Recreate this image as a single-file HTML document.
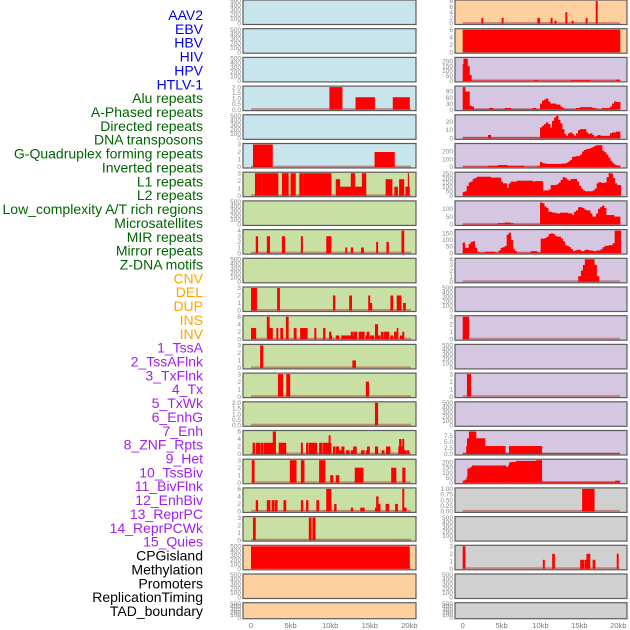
<!DOCTYPE html>
<html><head><meta charset="utf-8"><style>
html,body{margin:0;padding:0;background:#fff;}
svg{display:block;font-family:"Liberation Sans",sans-serif;}
</style></head><body>
<svg id="chart" width="630" height="630" viewBox="0 0 630 630"></svg>
<script>
const trackLabels = ["AAV2","EBV","HBV","HIV","HPV","HTLV-1","Alu repeats","A-Phased repeats","Directed repeats","DNA transposons","G-Quadruplex forming repeats","Inverted repeats","L1 repeats","L2 repeats","Low_complexity A/T rich regions","Microsatellites","MIR repeats","Mirror repeats","Z-DNA motifs","CNV","DEL","DUP","INS","INV","1_TssA","2_TssAFlnk","3_TxFlnk","4_Tx","5_TxWk","6_EnhG","7_Enh","8_ZNF_Rpts","9_Het","10_TssBiv","11_BivFlnk","12_EnhBiv","13_ReprPC","14_ReprPCWk","15_Quies","CPGisland","Methylation","Promoters","ReplicationTiming","TAD_boundary"];
const labelGroups = ["virus","virus","virus","virus","virus","virus","repeat","repeat","repeat","repeat","repeat","repeat","repeat","repeat","repeat","repeat","repeat","repeat","repeat","sv","sv","sv","sv","sv","chrom","chrom","chrom","chrom","chrom","chrom","chrom","chrom","chrom","chrom","chrom","chrom","chrom","chrom","chrom","other","other","other","other","other"];
const xTickKb = [0,5,10,15,20];
const xTickLabels = ["0","5kb","10kb","15kb","20kb"];
const EMPTY_TICKS = ["0","100","200","300","400","500"];
const STEP_KB = 0.257;

// left column segments [startKb,endKb,value]
const left_r03 = [[9.9,11.5,2],[13.2,15.6,1.1],[17.9,20,1.1]];
const left_r05 = [[0.25,2.7,3],[15.6,18.1,2]];
const left_r06 = [[0.5,1.3,3],[1.35,3.4,3],[3.9,4.7,3],[5,5.6,3],[6.1,6.6,3],[6.65,10.1,3],[10.7,11.2,2.2],[11.2,13.1,1.2],[12.6,13.1,3],[13.1,14,1.2],[14,14.5,3],[17,17.8,2.2],[18.1,18.5,1.2],[18.7,19.3,2.2],[19.5,20,1.2],[19.8,19.9,3]];
const left_r08 = [[0.6,0.85,3],[2,2.35,3],[3.9,4.25,3],[6.3,6.5,3],[9.5,10.1,3],[11.9,12.1,1],[12.6,12.85,1],[13.9,14.2,1],[15.8,16,2],[17.1,17.35,2],[19,19.3,4]];
const left_r10 = [[0,0.7,3],[3.3,3.6,3],[10.35,10.6,2],[12.4,12.7,2],[14.8,15,2],[15,15.25,1],[17.6,17.9,2],[18.4,18.95,2],[19.2,19.5,1]];
const left_r11 = [[0,0.6,3],[2,2.3,6],[2.3,2.7,3],[3.2,3.4,3],[3.7,4,3],[4.4,4.7,6],[5.4,5.7,3],[6.2,7.1,3],[8,8.2,3],[9.1,9.35,3],[9.85,10.1,2],[10.1,10.2,1],[10.7,11.1,1],[11.4,12.25,1],[12.3,13.3,1],[12.6,12.9,2],[13,13.35,2],[13.6,14.3,2],[14.45,14.7,1],[14.6,14.9,2],[15,15.5,1],[15.65,16,4],[16,16.3,1],[16.4,16.7,2],[16.8,17.4,2],[17.6,17.9,1],[18.05,18.4,2],[18.4,18.55,3],[18.8,19.1,1],[19.1,19.3,2]];
const left_r12 = [[1.15,1.5,3],[12.8,13.2,1]];
const left_r13 = [[3.4,4,3],[4.45,4.9,3],[14.5,14.85,2]];
const left_r14 = [[15.65,16,2]];
const left_r15 = [[0.2,0.45,3],[0.6,1.1,3],[1.2,1.5,3],[1.6,2.75,3],[2.75,3.1,6],[3.5,4.4,3],[6.3,6.5,3],[6.95,7.2,3],[7.3,8.3,3],[8.6,9,3],[9.1,9.8,3],[9.8,10,5],[10,10.1,3],[10.35,10.6,2],[10.7,11.1,2],[11.1,11.4,1],[11.4,11.75,2],[12,12.4,1],[12.6,12.9,1],[12.9,13.3,2],[13.9,14.3,1],[14.5,14.65,1],[14.65,14.95,2],[15.65,16,2],[16.5,16.8,1],[17.05,17.55,2],[18.6,18.75,2],[18.7,18.95,4],[18.95,19.1,2],[19.1,19.3,4],[19.3,19.6,1],[19.7,19.95,1]];
const left_r16 = [[0.1,0.4,3],[4.9,5.7,3],[6.3,6.7,3],[8.6,9.35,3],[10,10.35,1],[10.7,11.1,1],[13.1,14.15,2],[17.7,18.3,2],[19.1,19.45,2]];
const left_r17 = [[0.6,0.85,3],[2,2.4,3],[2.6,2.9,3],[3,3.3,3],[4.1,4.4,3],[6.3,6.55,3],[6.95,7.2,3],[8.25,8.55,3],[9.5,10.1,6],[10.5,10.75,2],[12.6,12.85,1],[13.8,14.3,1],[15.65,15.85,1],[15.8,16.05,4],[16.05,16.3,2],[17,17.4,2],[18.2,18.5,2],[19.1,19.3,6],[19.3,19.6,1]];
const left_r18 = [[0.25,0.55,3],[7.3,7.6,3],[7.75,8.1,3]];
const left_r19 = [[0,20,500]];

// right column segments
const right_r00 = [[2.4,2.6,2],[5,5.2,2],[9.6,9.9,2],[11.3,11.5,2],[11.8,12,1],[13.2,13.4,4],[14,14.2,1],[15.8,16,2],[17.1,17.3,8]];
const right_r01 = [[0,20.2,6]];
const right_r02 = [[0,20.2,4],[0,0.1,170],[0.1,0.6,225],[0.6,0.85,150],[0.85,1.1,60],[9.2,9.6,10],[13.9,16.4,8],[19.7,20.2,12]];
const right_r03 = [[0,9.94,3],[0,0.3,112],[0.3,0.85,90],[0.85,1.1,20],[1.1,1.4,15],[3.4,3.9,8],[5.4,6.2,8],[9,9.4,8]];
const right_r03_run = [30,45,50,55,40,30,30,30,25,25,15,8,3,3,3,3,3,3,8,8,12,12,12,12,12,12,8,8,3,3,3,8,8,8,8,15,30,40,38,38];
const right_r04 = [[0,9.94,1],[3.25,3.6,4]];
const right_r04_run = [13,15,17,19,17,13,21,25,27,22,18,11,5,3,6,7,5,3,6,10,11,11,11,7,5,6,4,2,3,4,3,3,3,3,3,6,7,7,8,8];
const right_r05 = [[0,3.26,5],[3.26,4.54,15],[4.54,5.7,25],[5.7,7.88,15],[7.88,9.5,3],[9.5,9.94,10]];
const right_r05_run = [65,50,45,40,40,40,40,40,40,40,40,45,45,55,70,90,130,135,140,140,160,200,220,230,235,245,255,270,280,280,280,210,190,160,120,80,50,30,20,20];
const right_r06_run = [40,50,110,150,160,190,200,215,215,215,215,215,215,215,205,205,205,205,205,160,140,140,90,140,160,160,160,170,170,170,170,170,170,170,170,160,165,165,165,165,60,60,60,70,120,120,120,130,150,180,210,200,180,170,190,190,190,160,110,80,60,50,50,50,50,60,80,140,155,145,145,150,210,255,250,200,140,120,120];
const right_r07 = [[0,9.94,2],[4.5,5.4,8],[5.4,6.1,12],[6.1,6.5,8]];
const right_r07_run = [140,135,115,105,80,80,75,75,70,70,75,75,75,75,70,70,60,80,90,110,110,105,95,90,90,70,50,50,70,100,110,120,105,60,60,60,60,50,50,50];
const right_r08_run = [80,40,40,70,85,90,40,10,3,3,3,10,10,10,10,10,5,3,20,40,45,55,140,155,100,30,15,3,3,3,3,3,3,3,15,15,15,5,5,110,110,115,125,145,150,145,130,125,125,110,90,60,55,45,30,15,20,25,25,15,15,25,25,20,20,15,15,20,20,30,45,55,55,60,60,75,170,170,170];
const right_r09 = [[14.85,15.2,1],[15.2,15.45,2],[15.45,15.7,3],[15.7,16.9,4],[16.9,17.2,3],[17.2,17.5,1]];
const right_r11 = [[0,0.77,3]];
const right_r13 = [[0.55,1.03,3]];
const right_r15 = [[0,20.2,0.3],[0.45,0.55,3.3],[0.55,0.8,6.5],[0.8,1.7,9.3],[1.7,2.85,6.5],[2.85,5.45,3.3],[5.95,10.15,3.3]];
const right_r16 = [[0,0.25,20],[0.25,0.5,30],[0.5,0.6,60],[0.6,0.85,140],[0.85,1.1,150],[1.1,1.2,160],[1.2,5.55,170],[5.55,5.8,155],[5.8,5.95,170],[5.95,6.2,200],[6.2,6.85,205],[6.85,9.43,215],[9.43,10.15,222],[10.15,19.6,10],[19.6,20.2,20]];
const right_r17 = [[15.35,16.9,1]];
const right_r19 = [[0,0.3,3],[10.3,10.5,1.2],[11.5,11.8,2],[15.1,15.6,1.2],[15.7,15.9,1.2],[15.9,16.35,2],[16.7,17,1.2],[19.8,20,2]];

const panels = [
 {c:0,r:0,bg:"blue",ymax:500,ticks:EMPTY_TICKS,segs:null},
 {c:0,r:1,bg:"blue",ymax:500,ticks:EMPTY_TICKS,segs:null},
 {c:0,r:2,bg:"blue",ymax:500,ticks:EMPTY_TICKS,segs:null},
 {c:0,r:3,bg:"blue",ymax:2,ticks:["0.0","0.5","1.0","1.5","2.0"],segs:left_r03},
 {c:0,r:4,bg:"blue",ymax:500,ticks:EMPTY_TICKS,segs:null},
 {c:0,r:5,bg:"blue",ymax:3,ticks:["0","1","2","3"],segs:left_r05},
 {c:0,r:6,bg:"green",ymax:3,ticks:["0","1","2","3"],segs:left_r06},
 {c:0,r:7,bg:"green",ymax:500,ticks:EMPTY_TICKS,segs:null},
 {c:0,r:8,bg:"green",ymax:4,ticks:["0","1","2","3","4"],segs:left_r08},
 {c:0,r:9,bg:"green",ymax:500,ticks:EMPTY_TICKS,segs:null},
 {c:0,r:10,bg:"green",ymax:3,ticks:["0","1","2","3"],segs:left_r10},
 {c:0,r:11,bg:"green",ymax:6,ticks:["0","2","4","6"],segs:left_r11},
 {c:0,r:12,bg:"green",ymax:3,ticks:["0","1","2","3"],segs:left_r12},
 {c:0,r:13,bg:"green",ymax:3,ticks:["0","1","2","3"],segs:left_r13},
 {c:0,r:14,bg:"green",ymax:2,ticks:["0.0","0.5","1.0","1.5","2.0"],segs:left_r14},
 {c:0,r:15,bg:"green",ymax:6,ticks:["0","2","4","6"],segs:left_r15},
 {c:0,r:16,bg:"green",ymax:3,ticks:["0","1","2","3"],segs:left_r16},
 {c:0,r:17,bg:"green",ymax:6,ticks:["0","2","4","6"],segs:left_r17},
 {c:0,r:18,bg:"green",ymax:3,ticks:["0","1","2","3"],segs:left_r18},
 {c:0,r:19,bg:"orange",ymax:500,ticks:EMPTY_TICKS,segs:left_r19},
 {c:0,r:20,bg:"orange",ymax:500,ticks:EMPTY_TICKS,segs:null},
 {c:0,r:21,bg:"orange",ymax:500,ticks:EMPTY_TICKS,segs:null},
 {c:1,r:0,bg:"orange",ymax:8,ticks:["0","2","4","6","8"],segs:right_r00},
 {c:1,r:1,bg:"orange",ymax:6,ticks:["0","2","4","6"],segs:right_r01},
 {c:1,r:2,bg:"purple",ymax:228,ticks:["0","50","100","150","200"],segs:right_r02},
 {c:1,r:3,bg:"purple",ymax:112,ticks:["0","30","60","90"],segs:right_r03,run:right_r03_run,runStart:9.94},
 {c:1,r:4,bg:"purple",ymax:27,ticks:["0","10","20"],segs:right_r04,run:right_r04_run,runStart:9.94},
 {c:1,r:5,bg:"purple",ymax:290,ticks:["0","100","200"],segs:right_r05,run:right_r05_run,runStart:9.94},
 {c:1,r:6,bg:"purple",ymax:255,ticks:["0","50","100","150","200","250"],segs:[],run:right_r06_run,runStart:0},
 {c:1,r:7,bg:"purple",ymax:144,ticks:["0","50","100"],segs:right_r07,run:right_r07_run,runStart:9.94},
 {c:1,r:8,bg:"purple",ymax:171,ticks:["0","50","100","150"],segs:[],run:right_r08_run,runStart:0},
 {c:1,r:9,bg:"purple",ymax:4,ticks:["0","1","2","3","4"],segs:right_r09},
 {c:1,r:10,bg:"purple",ymax:500,ticks:EMPTY_TICKS,segs:null},
 {c:1,r:11,bg:"purple",ymax:3,ticks:["0","1","2","3"],segs:right_r11},
 {c:1,r:12,bg:"purple",ymax:500,ticks:EMPTY_TICKS,segs:null},
 {c:1,r:13,bg:"purple",ymax:3,ticks:["0","1","2","3"],segs:right_r13},
 {c:1,r:14,bg:"purple",ymax:500,ticks:EMPTY_TICKS,segs:null},
 {c:1,r:15,bg:"purple",ymax:9.3,ticks:["0.0","2.5","5.0","7.5"],segs:right_r15},
 {c:1,r:16,bg:"purple",ymax:222,ticks:["0","50","100","150","200"],segs:right_r16},
 {c:1,r:17,bg:"gray",ymax:1,ticks:["0.00","0.25","0.50","0.75","1.00"],segs:right_r17},
 {c:1,r:18,bg:"gray",ymax:500,ticks:EMPTY_TICKS,segs:null},
 {c:1,r:19,bg:"gray",ymax:3,ticks:["0","1","2","3"],segs:right_r19},
 {c:1,r:20,bg:"gray",ymax:500,ticks:EMPTY_TICKS,segs:null},
 {c:1,r:21,bg:"gray",ymax:500,ticks:EMPTY_TICKS,segs:null}
];

const BG = {blue:"#c8e4ec",green:"#c8e0a4",orange:"#ffd09f",purple:"#d5c6e2",gray:"#d0d0d0"};
const GROUP_COLOR = {virus:"#0000ee",repeat:"#006400",sv:"#ffa500",chrom:"#a020f0",other:"#000000"};
const COLS = [{x0:243,x1:416,kb0:251,sc:7.92},{x0:455,x1:627,kb0:462.7,sc:7.78}];
const NS = "http://www.w3.org/2000/svg";
const svg = document.getElementById("chart");

function mk(tag, attrs){ const e=document.createElementNS(NS,tag); for(const k in attrs) e.setAttribute(k,attrs[k]); return e; }
function xScale(col, kb){ return COLS[col].kb0 + kb*COLS[col].sc; }
function panelTop(r){ return r*28.7; }
function panelH(r){ return r===21 ? 16 : 24.5; }
function yScale(p, v){ const t=panelTop(p.r), h=panelH(p.r); return t+h-1 - (v/p.ymax)*(h-2); }

trackLabels.forEach((name,i)=>{
  const t = mk("text",{x:203,y:(15+i*13.86+5).toFixed(1),"text-anchor":"end","font-size":"14",fill:GROUP_COLOR[labelGroups[i]]});
  
  
  t.textContent = name;
  svg.appendChild(t);
});

function bar(g, p, a, b, v){
  const x0=xScale(p.c,a), x1=xScale(p.c,b);
  const y=yScale(p,v), y0=yScale(p,0);
  const rc = mk("rect",{x:x0.toFixed(2),y:y.toFixed(2),width:(Math.max(0.8,x1-x0)+0.4).toFixed(2),height:Math.max(0,y0-y).toFixed(2),fill:"#ff0000"});
  
  
  g.appendChild(rc);
}

panels.forEach(p=>{
  const col=COLS[p.c], top=panelTop(p.r), h=panelH(p.r);
  const g = mk("g",{});
  
  
  svg.appendChild(g);
  const bgRect = mk("rect",{x:col.x0,y:top.toFixed(2),width:col.x1-col.x0,height:h,fill:BG[p.bg]});
  
  
  g.appendChild(bgRect);
  if(p.segs){
    const bl = mk("line",{x1:xScale(p.c,0),x2:xScale(p.c,20.2),y1:yScale(p,0)-0.5,y2:yScale(p,0)-0.5,stroke:"rgba(170,40,40,0.45)","stroke-width":"2"});
    
    
    g.appendChild(bl);
    p.segs.forEach(s=>bar(g,p,s[0],s[1],s[2]));
    if(p.run){ p.run.forEach((v,k)=>bar(g,p,p.runStart+k*STEP_KB,p.runStart+(k+1)*STEP_KB,v)); }
  }
  const border = mk("rect",{x:col.x0,y:top.toFixed(2),width:col.x1-col.x0,height:h,fill:"none",stroke:"#5c5c5c","stroke-width":"1.2"});
  
  
  g.appendChild(border);
  p.ticks.forEach(tl=>{
    const v=parseFloat(tl);
    const t = mk("text",{x:col.x0-2,y:(yScale(p,v)+2.2).toFixed(2),"text-anchor":"end","font-size":"6.5",fill:"#888"});
    
    
    t.textContent = tl;
    g.appendChild(t);
  });
});

[0,1].forEach(c=>{
  xTickKb.forEach((kb,i)=>{
    const t = mk("text",{x:xScale(c,kb).toFixed(1),y:628,"text-anchor":"middle","font-size":"7.5",fill:"#777"});
    
    
    t.textContent = xTickLabels[i];
    svg.appendChild(t);
  });
});
</script>
</body></html>
